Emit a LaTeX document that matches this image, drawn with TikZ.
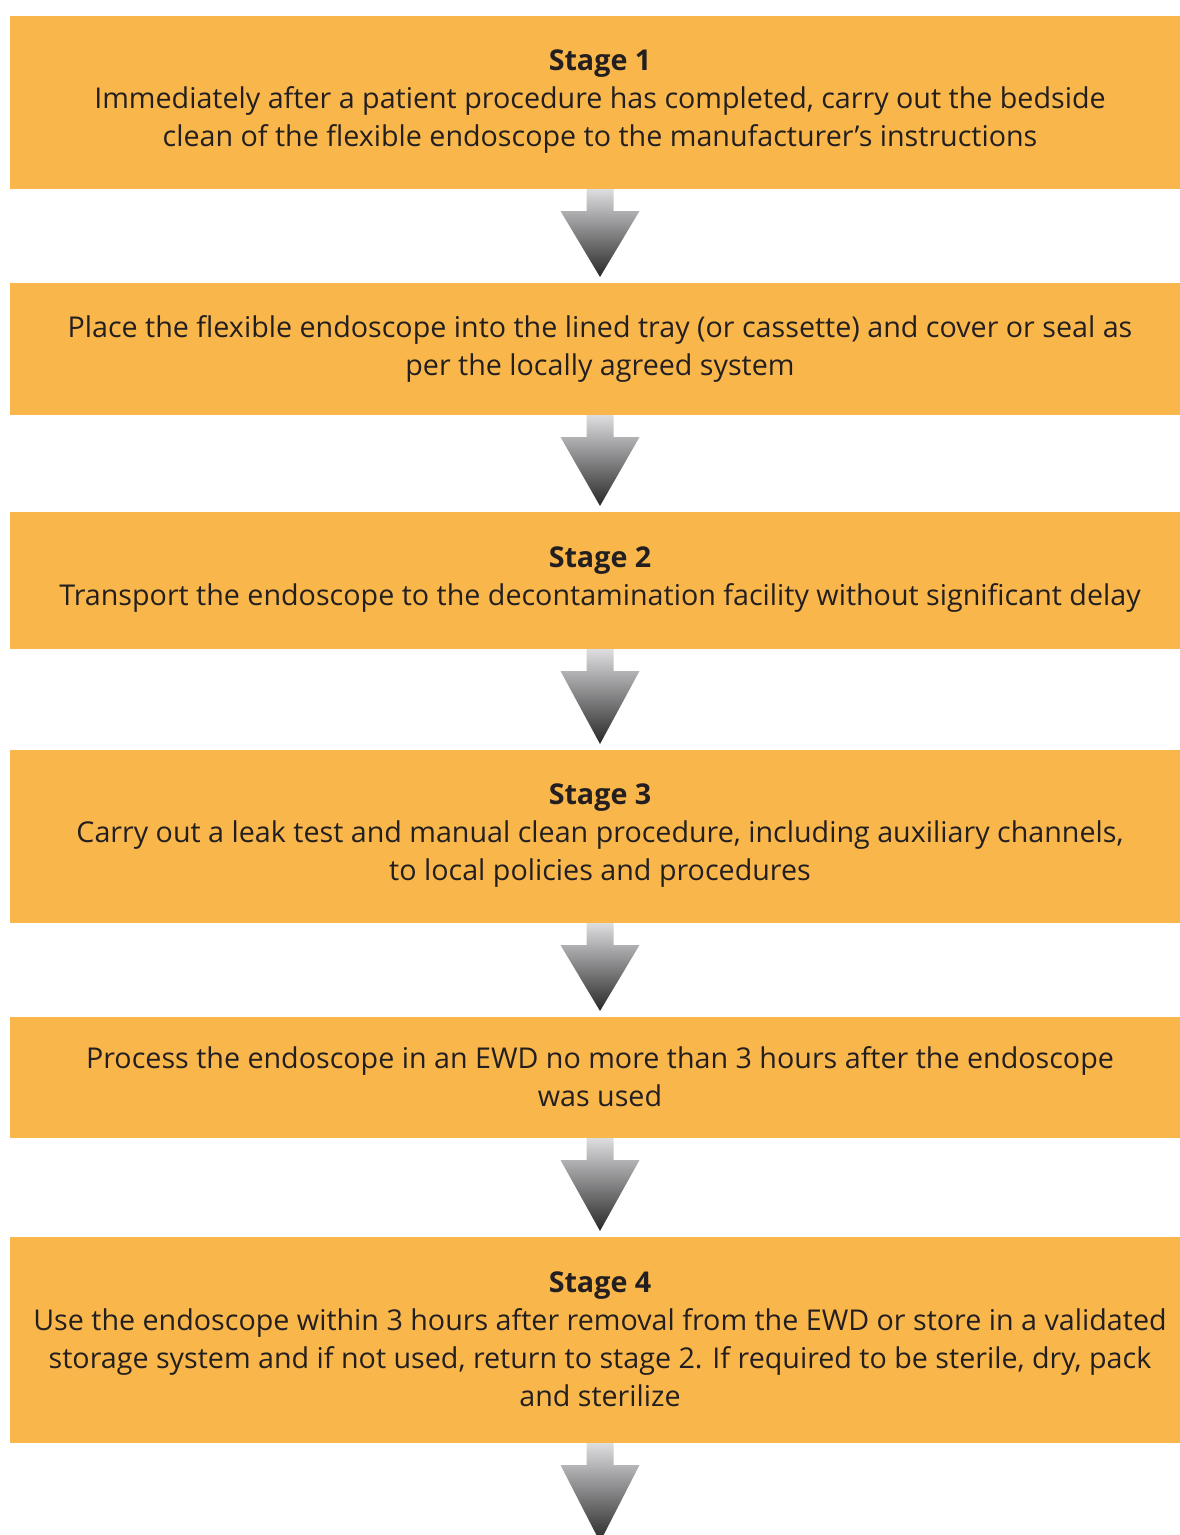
\documentclass[tikz,border=0pt]{standalone}
\usepackage{fontspec}
\setmainfont{Open Sans}
\usetikzlibrary{calc}

\definecolor{stagefill}{RGB}{249,183,75}
\definecolor{stagetext}{RGB}{35,31,32}
\definecolor{arrowtop}{RGB}{222,222,225}
\definecolor{arrowbot}{RGB}{40,40,40}

\tikzset{every picture/.style={line width=0.75pt}}
\tikzset{
  stagebox/.style={fill=stagefill, draw=none, minimum width=1180*0.75pt, minimum height=#1*0.75pt,
    inner sep=0pt, text=stagetext, align=center, anchor=north, font=\fontsize{21.5}{28.5}\selectfont},
}

% block arrow from the bottom of one box to the top of the next
\newcommand{\flowarrow}[2]{%
  \path [top color=arrowtop, bottom color=arrowbot]
    ($(#1.south)+(-13.5,0)$) -- ($(#1.south)+(13.5,0)$) -- ($(#1.south)+(13.5,22)$)
    -- ($(#1.south)+(39.5,22)$) -- ($(#2.north)+(0,-5)$) -- ($(#1.south)+(-39.5,22)$)
    -- ($(#1.south)+(-13.5,22)$) -- cycle ;
}

\begin{document}
\begin{tikzpicture}[x=0.75pt,y=0.75pt,yscale=-1,xscale=1]
\clip (0,0) rectangle (1180,1535);
\useasboundingbox (0,0) rectangle (1180,1535);

%Shape: Stage boxes
\node [stagebox=173] (stage1) at (600,15)
  {\textbf{Stage 1}\\Immediately after a patient procedure has completed, carry out the bedside\\clean of the flexible endoscope to the manufacturer’s instructions};
\node [stagebox=132] (tray) at (600,282)
  {Place the flexible endoscope into the lined tray (or cassette) and cover or seal as\\per the locally agreed system};
\node [stagebox=137] (stage2) at (600,511)
  {\textbf{Stage 2}\\Transport the endoscope to the decontamination facility without significant delay};
\node [stagebox=173] (stage3) at (600,749)
  {\textbf{Stage 3}\\Carry out a leak test and manual clean procedure, including auxiliary channels,\\to local policies and procedures};
\node [stagebox=121] (ewd) at (600,1016)
  {Process the endoscope in an EWD no more than 3 hours after the endoscope\\was used};
\node [stagebox=206] (stage4) at (600,1236)
  {\textbf{Stage 4}\\Use the endoscope within 3 hours after removal from the EWD or store in a validated\\storage system and if not used, return to stage 2. If required to be sterile, dry, pack\\and sterilize};
\coordinate (next) at (600,1547);

%Shape: Arrows
\flowarrow{stage1}{tray}
\flowarrow{tray}{stage2}
\flowarrow{stage2}{stage3}
\flowarrow{stage3}{ewd}
\flowarrow{ewd}{stage4}
\flowarrow{stage4}{next}

\end{tikzpicture}
\end{document}
